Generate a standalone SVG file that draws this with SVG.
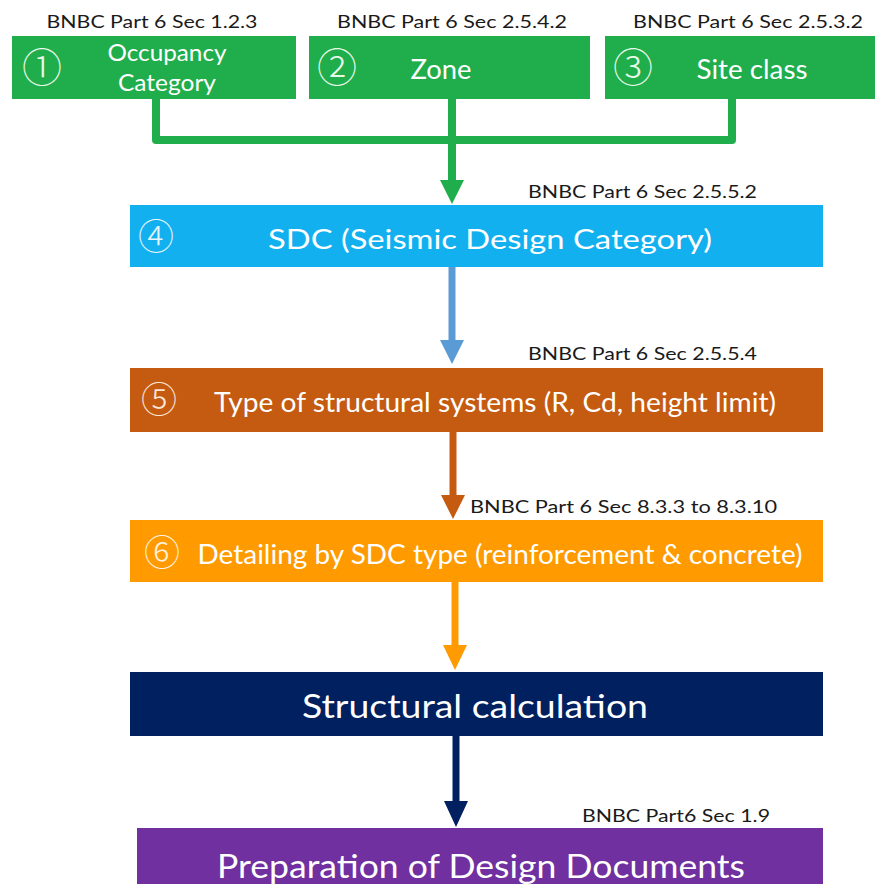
<svg xmlns="http://www.w3.org/2000/svg" width="875" height="884" viewBox="0 0 875 884">
<style>
.ref{font-family:"Lato","Liberation Sans",sans-serif;font-size:17px;fill:#1a1a1a}
.lbl{font-family:"Lato","Liberation Sans",sans-serif;fill:#ffffff}
.g{fill:#1fae4b}
.numt{font-family:"Noto Sans CJK SC","DejaVu Sans",sans-serif;font-weight:300}
</style>
<rect width="875" height="884" fill="#ffffff"/>
<g id="connectors">
  <path d="M156,99 V140 H732 V99" fill="none" stroke="#1fae4b" stroke-width="8" stroke-linejoin="round"/>
  <path d="M452,99 V182" fill="none" stroke="#1fae4b" stroke-width="8"/>
  <polygon points="440,180 464,180 452,204" fill="#1fae4b"/>
  <path d="M452,267 V342" fill="none" stroke="#5b9bd5" stroke-width="7"/>
  <polygon points="440,340 464,340 452,364" fill="#5b9bd5"/>
  <path d="M453,432 V497" fill="none" stroke="#c55a11" stroke-width="7"/>
  <polygon points="441,495 465,495 453,519" fill="#c55a11"/>
  <path d="M455,582 V648" fill="none" stroke="#ff9a00" stroke-width="7"/>
  <polygon points="443,645 467,645 455,670" fill="#ff9a00"/>
  <path d="M456,736 V804" fill="none" stroke="#002060" stroke-width="7"/>
  <polygon points="444,801 468,801 456,827" fill="#002060"/>
</g>
<g id="node1">
  <text class="ref" x="152" y="28" text-anchor="middle" textLength="211" lengthAdjust="spacingAndGlyphs">BNBC Part 6 Sec 1.2.3</text>
  <rect x="12" y="36" width="284" height="63" class="g"/>
  <text class="numt" x="42" y="82" font-size="40" fill="#e8f8e8" text-anchor="middle">①</text>
  <text class="lbl" x="167" y="61" font-size="23" text-anchor="middle" textLength="119" lengthAdjust="spacingAndGlyphs">Occupancy</text>
  <text class="lbl" x="167" y="91" font-size="23" text-anchor="middle" textLength="98" lengthAdjust="spacingAndGlyphs">Category</text>
</g>
<g id="node2">
  <text class="ref" x="452" y="28" text-anchor="middle" textLength="230" lengthAdjust="spacingAndGlyphs">BNBC Part 6 Sec 2.5.4.2</text>
  <rect x="309" y="36" width="281" height="63" class="g"/>
  <text class="numt" x="337" y="82" font-size="40" fill="#e8f8e8" text-anchor="middle">②</text>
  <text class="lbl" x="441" y="79" font-size="26" text-anchor="middle" textLength="61" lengthAdjust="spacingAndGlyphs">Zone</text>
</g>
<g id="node3">
  <text class="ref" x="748" y="28" text-anchor="middle" textLength="230" lengthAdjust="spacingAndGlyphs">BNBC Part 6 Sec 2.5.3.2</text>
  <rect x="605" y="36" width="270" height="63" class="g"/>
  <text class="numt" x="633" y="82" font-size="40" fill="#e8f8e8" text-anchor="middle">③</text>
  <text class="lbl" x="752" y="79" font-size="26" text-anchor="middle" textLength="111" lengthAdjust="spacingAndGlyphs">Site class</text>
</g>
<g id="node4">
  <text class="ref" x="757" y="198" text-anchor="end" textLength="229" lengthAdjust="spacingAndGlyphs">BNBC Part 6 Sec 2.5.5.2</text>
  <rect x="130" y="205" width="693" height="62" fill="#13b0ef"/>
  <text class="numt" x="156" y="250" font-size="36" fill="#e6f6fd" text-anchor="middle">④</text>
  <text class="lbl" x="490" y="249" font-size="26" text-anchor="middle" textLength="444" lengthAdjust="spacingAndGlyphs">SDC (Seismic Design Category)</text>
</g>
<g id="node5">
  <text class="ref" x="757" y="360" text-anchor="end" textLength="229" lengthAdjust="spacingAndGlyphs">BNBC Part 6 Sec 2.5.5.4</text>
  <rect x="130" y="368" width="693" height="64" fill="#c55a11"/>
  <text class="numt" x="159" y="413" font-size="36" fill="#fbe7d9" text-anchor="middle">⑤</text>
  <text class="lbl" x="495" y="412" font-size="26" text-anchor="middle" textLength="562" lengthAdjust="spacingAndGlyphs">Type of structural systems (R, Cd, height limit)</text>
</g>
<g id="node6">
  <text class="ref" x="777" y="513" text-anchor="end" textLength="307" lengthAdjust="spacingAndGlyphs">BNBC Part 6 Sec 8.3.3 to 8.3.10</text>
  <rect x="130" y="520" width="693" height="62" fill="#ff9a00"/>
  <text class="numt" x="162" y="566" font-size="36" fill="#fff1dd" text-anchor="middle">⑥</text>
  <text class="lbl" x="500" y="564" font-size="26" text-anchor="middle" textLength="605" lengthAdjust="spacingAndGlyphs">Detailing by SDC type (reinforcement &amp; concrete)</text>
</g>
<g id="node7">
  <rect x="130" y="672" width="693" height="64" fill="#002060"/>
  <text class="lbl" x="475" y="718" font-size="32" text-anchor="middle" textLength="346" lengthAdjust="spacingAndGlyphs">Structural calculation</text>
</g>
<g id="node8">
  <text class="ref" x="770" y="822" text-anchor="end" textLength="188" lengthAdjust="spacingAndGlyphs">BNBC Part6 Sec 1.9</text>
  <rect x="137" y="828" width="686" height="60" fill="#7030a0"/>
  <text class="lbl" x="481" y="878" font-size="32" text-anchor="middle" textLength="528" lengthAdjust="spacingAndGlyphs">Preparation of Design Documents</text>
</g>
</svg>
